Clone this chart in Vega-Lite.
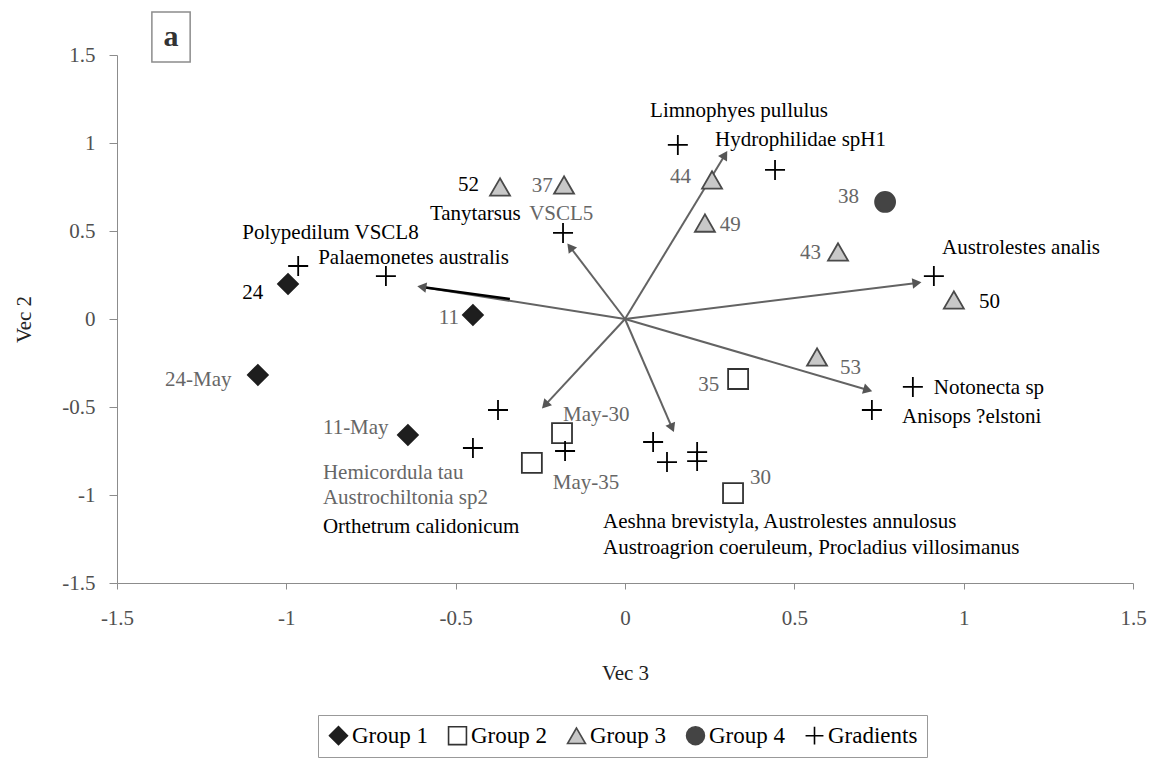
{
  "$schema": "https://vega.github.io/schema/vega-lite/v6.json",
  "width": 1016,
  "height": 528,
  "autosize": {"type": "none"},
  "padding": {"left": 117, "top": 55, "right": 30, "bottom": 177},
  "background": "white",
  "config": {
    "view": {"stroke": null},
    "font": "Liberation Serif",
    "axis": {
      "grid": false,
      "domainColor": "#8c8c8c",
      "tickColor": "#8c8c8c",
      "labelFont": "Liberation Serif",
      "labelFontSize": 21,
      "labelColor": "#505050",
      "titleFont": "Liberation Serif",
      "titleFontSize": 21,
      "titleFontWeight": "normal",
      "titleColor": "#222222"
    },
    "axisX": {"tickSize": 6, "labelPadding": 18, "titlePadding": 34},
    "axisY": {"tickSize": 8, "labelPadding": 14, "titlePadding": 27},
    "legend": {
      "orient": "none",
      "legendX": 201,
      "legendY": 660,
      "direction": "horizontal",
      "strokeColor": "#999999",
      "padding": 9,
      "labelFont": "Liberation Serif",
      "labelFontSize": 23,
      "labelColor": "#000000",
      "symbolSize": 320,
      "symbolStrokeWidth": 1.6,
      "columnPadding": 16,
      "labelOffset": 2
    }
  },
  "datasets": {
    "vectors": [
      {"x": -0.6, "y": 0.182},
      {"x": -0.162, "y": 0.409},
      {"x": 0.295, "y": 0.932},
      {"x": 0.862, "y": 0.205},
      {"x": 0.717, "y": -0.403},
      {"x": 0.139, "y": -0.619},
      {"x": -0.236, "y": -0.489}
    ],
    "blackseg": [
      {"x": -0.34, "y": 0.114, "x2": -0.6, "y2": 0.182}
    ],
    "points": [
      {"x": -0.995, "y": 0.199, "group": "Group 1"},
      {"x": -0.449, "y": 0.023, "group": "Group 1"},
      {"x": -1.084, "y": -0.318, "group": "Group 1"},
      {"x": -0.641, "y": -0.659, "group": "Group 1"},
      {"x": 0.334, "y": -0.341, "group": "Group 2"},
      {"x": -0.186, "y": -0.648, "group": "Group 2"},
      {"x": -0.275, "y": -0.818, "group": "Group 2"},
      {"x": 0.319, "y": -0.989, "group": "Group 2"},
      {"x": -0.369, "y": 0.75, "group": "Group 3"},
      {"x": -0.18, "y": 0.761, "group": "Group 3"},
      {"x": 0.257, "y": 0.79, "group": "Group 3"},
      {"x": 0.236, "y": 0.545, "group": "Group 3"},
      {"x": 0.629, "y": 0.381, "group": "Group 3"},
      {"x": 0.971, "y": 0.108, "group": "Group 3"},
      {"x": 0.567, "y": -0.216, "group": "Group 3"},
      {"x": 0.768, "y": 0.665, "group": "Group 4"},
      {"x": 0.156, "y": 0.989, "group": "Gradients"},
      {"x": 0.443, "y": 0.847, "group": "Gradients"},
      {"x": -0.183, "y": 0.489, "group": "Gradients"},
      {"x": -0.965, "y": 0.301, "group": "Gradients"},
      {"x": -0.706, "y": 0.244, "group": "Gradients"},
      {"x": 0.912, "y": 0.244, "group": "Gradients"},
      {"x": 0.85, "y": -0.386, "group": "Gradients"},
      {"x": 0.729, "y": -0.517, "group": "Gradients"},
      {"x": -0.375, "y": -0.517, "group": "Gradients"},
      {"x": -0.449, "y": -0.733, "group": "Gradients"},
      {"x": -0.177, "y": -0.75, "group": "Gradients"},
      {"x": 0.083, "y": -0.699, "group": "Gradients"},
      {"x": 0.124, "y": -0.813, "group": "Gradients"},
      {"x": 0.213, "y": -0.756, "group": "Gradients"},
      {"x": 0.213, "y": -0.807, "group": "Gradients"}
    ],
    "labels_dark": [
      {"x": 0.074, "y": 1.182, "label": "Limnophyes pullulus"},
      {"x": 0.266, "y": 1.017, "label": "Hydrophilidae spH1"},
      {"x": 0.936, "y": 0.403, "label": "Austrolestes analis"},
      {"x": 1.045, "y": 0.097, "label": "50"},
      {"x": 0.912, "y": -0.392, "label": "Notonecta sp"},
      {"x": 0.818, "y": -0.557, "label": "Anisops ?elstoni"},
      {"x": -0.065, "y": -1.153, "label": "Aeshna brevistyla, Austrolestes annulosus"},
      {"x": -0.065, "y": -1.301, "label": "Austroagrion coeruleum, Procladius villosimanus"},
      {"x": -0.892, "y": -1.182, "label": "Orthetrum calidonicum"},
      {"x": -1.13, "y": 0.148, "label": "24"},
      {"x": -1.13, "y": 0.489, "label": "Polypedilum VSCL8"},
      {"x": -0.906, "y": 0.347, "label": "Palaemonetes australis"},
      {"x": -0.493, "y": 0.761, "label": "52"},
      {"x": -0.576, "y": 0.594, "label": "Tanytarsus"}
    ],
    "labels_gray": [
      {"x": -0.283, "y": 0.594, "label": "VSCL5"},
      {"x": -0.275, "y": 0.756, "label": "37"},
      {"x": 0.133, "y": 0.807, "label": "44"},
      {"x": 0.28, "y": 0.534, "label": "49"},
      {"x": 0.629, "y": 0.693, "label": "38"},
      {"x": 0.517, "y": 0.375, "label": "43"},
      {"x": 0.635, "y": -0.278, "label": "53"},
      {"x": 0.216, "y": -0.375, "label": "35"},
      {"x": 0.369, "y": -0.903, "label": "30"},
      {"x": -0.183, "y": -0.545, "label": "May-30"},
      {"x": -0.213, "y": -0.932, "label": "May-35"},
      {"x": -0.892, "y": -0.619, "label": "11-May"},
      {"x": -0.892, "y": -0.875, "label": "Hemicordula tau"},
      {"x": -0.892, "y": -1.017, "label": "Austrochiltonia sp2"},
      {"x": -1.358, "y": -0.347, "label": "24-May"},
      {"x": -0.55, "y": 0.006, "label": "11"}
    ],
    "panel": [
      {"x": -1.397, "x2": -1.284, "y": 1.744, "y2": 1.46, "xc": -1.3405, "yc": 1.6, "label": "a"}
    ]
  },
  "layer": [
    {
      "data": {"name": "vectors"},
      "mark": {"type": "rule", "color": "#636363", "strokeWidth": 2},
      "encoding": {
        "x": {"field": "x", "type": "quantitative", "scale": {"domain": [-1.5, 1.5], "nice": false, "zero": false},
              "axis": {"values": [-1.5, -1, -0.5, 0, 0.5, 1, 1.5], "title": "Vec 3", "labelFlush": false, "format": "~g", "labelExpr": "replace(datum.label, '\u2212', '-')"}},
        "y": {"field": "y", "type": "quantitative", "scale": {"domain": [-1.5, 1.5], "nice": false, "zero": false},
              "axis": {"values": [-1.5, -1, -0.5, 0, 0.5, 1, 1.5], "title": "Vec 2", "labelFlush": false, "format": "~g", "labelExpr": "replace(datum.label, '\u2212', '-')"}},
        "x2": {"datum": 0},
        "y2": {"datum": 0}
      }
    },
    {
      "data": {"name": "blackseg"},
      "mark": {"type": "rule", "color": "#000000", "strokeWidth": 2.5},
      "encoding": {
        "x": {"field": "x", "type": "quantitative", "scale": {"domain": [-1.5, 1.5], "nice": false, "zero": false}},
        "y": {"field": "y", "type": "quantitative", "scale": {"domain": [-1.5, 1.5], "nice": false, "zero": false}},
        "x2": {"field": "x2"},
        "y2": {"field": "y2"}
      }
    },
    {
      "data": {"name": "vectors"},
      "transform": [{"calculate": "atan2(datum.x * 338.67, datum.y * 176) * 180 / PI", "as": "heading"}],
      "mark": {"type": "point", "shape": "triangle-up", "filled": true, "size": 110, "color": "#555555", "opacity": 1},
      "encoding": {
        "x": {"field": "x", "type": "quantitative", "scale": {"domain": [-1.5, 1.5], "nice": false, "zero": false}},
        "y": {"field": "y", "type": "quantitative", "scale": {"domain": [-1.5, 1.5], "nice": false, "zero": false}},
        "angle": {"field": "heading", "type": "quantitative", "scale": null}
      }
    },
    {
      "data": {"name": "points"},
      "mark": {"type": "point", "filled": true, "size": 400, "strokeWidth": 1.8, "opacity": 1},
      "encoding": {
        "x": {"field": "x", "type": "quantitative", "scale": {"domain": [-1.5, 1.5], "nice": false, "zero": false}},
        "y": {"field": "y", "type": "quantitative", "scale": {"domain": [-1.5, 1.5], "nice": false, "zero": false}},
        "shape": {"field": "group", "type": "nominal",
                  "scale": {"domain": ["Group 1", "Group 2", "Group 3", "Group 4", "Gradients"], "range": ["diamond", "square", "triangle-up", "circle", "M-1,0L1,0M0,-1L0,1"]},
                  "legend": {"title": null}},
        "fill": {"field": "group", "type": "nominal",
                 "scale": {"domain": ["Group 1", "Group 2", "Group 3", "Group 4", "Gradients"], "range": ["#1e1e1e", "#ffffff", "#c8c8c8", "#444444", "#000000"]},
                 "legend": {"title": null}},
        "stroke": {"field": "group", "type": "nominal",
                   "scale": {"domain": ["Group 1", "Group 2", "Group 3", "Group 4", "Gradients"], "range": ["#1e1e1e", "#333333", "#4a4a4a", "#444444", "#000000"]},
                   "legend": {"title": null}}
      }
    },
    {
      "data": {"name": "labels_dark"},
      "mark": {"type": "text", "align": "left", "baseline": "middle", "font": "Liberation Serif", "fontSize": 21, "color": "#000000"},
      "encoding": {
        "x": {"field": "x", "type": "quantitative", "scale": {"domain": [-1.5, 1.5], "nice": false, "zero": false}},
        "y": {"field": "y", "type": "quantitative", "scale": {"domain": [-1.5, 1.5], "nice": false, "zero": false}},
        "text": {"field": "label"}
      }
    },
    {
      "data": {"name": "labels_gray"},
      "mark": {"type": "text", "align": "left", "baseline": "middle", "font": "Liberation Serif", "fontSize": 21, "color": "#666666"},
      "encoding": {
        "x": {"field": "x", "type": "quantitative", "scale": {"domain": [-1.5, 1.5], "nice": false, "zero": false}},
        "y": {"field": "y", "type": "quantitative", "scale": {"domain": [-1.5, 1.5], "nice": false, "zero": false}},
        "text": {"field": "label"}
      }
    },
    {
      "data": {"name": "panel"},
      "mark": {"type": "rect", "fill": "#ffffff", "stroke": "#8c8c8c", "strokeWidth": 1.5},
      "encoding": {
        "x": {"field": "x", "type": "quantitative", "scale": {"domain": [-1.5, 1.5], "nice": false, "zero": false}},
        "y": {"field": "y", "type": "quantitative", "scale": {"domain": [-1.5, 1.5], "nice": false, "zero": false}},
        "x2": {"field": "x2"},
        "y2": {"field": "y2"}
      }
    },
    {
      "data": {"name": "panel"},
      "mark": {"type": "text", "align": "center", "baseline": "middle", "font": "Liberation Serif", "fontSize": 30, "fontWeight": "bold", "color": "#333333"},
      "encoding": {
        "x": {"field": "xc", "type": "quantitative", "scale": {"domain": [-1.5, 1.5], "nice": false, "zero": false}},
        "y": {"field": "yc", "type": "quantitative", "scale": {"domain": [-1.5, 1.5], "nice": false, "zero": false}},
        "text": {"field": "label"}
      }
    }
  ]
}
